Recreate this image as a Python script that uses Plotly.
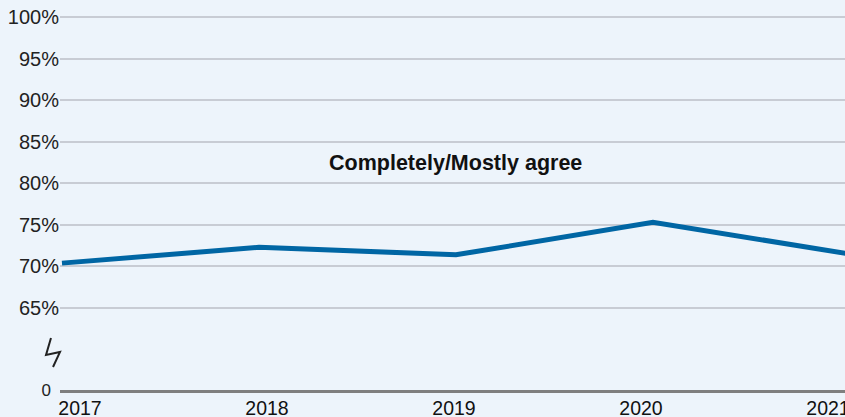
import plotly.graph_objects as go

# survey years and share who completely/mostly agree (%)
years = [2017, 2018, 2019, 2020, 2021]
agree = [70.4, 72.3, 71.4, 75.3, 71.5]
year_labels = ["2017", "2018", "2019", "2020", "2021"]
pct_ticks = [65, 70, 75, 80, 85, 90, 95, 100]
series_name = "Completely/Mostly agree"

bg = "#EDF4FB"
blue = "#0066A4"
font = "Arial, Liberation Sans, sans-serif"

fig = go.Figure()
fig.add_trace(go.Scatter(x=years, y=agree, mode="lines",
                         line=dict(color=blue, width=5),
                         showlegend=False, hoverinfo="skip"))

fig.add_annotation(x=2019, y=82.4, text="<b>" + series_name + "</b>",
                   showarrow=False, font=dict(size=21.5, color="#111111", family=font),
                   xref="x", yref="y")

# broken axis mark (paper coords of plot area)
fig.add_shape(type="path", xref="paper", yref="paper",
              path="M -0.0115 0.1333 L -0.0178 0.0897 L 0 0.0974 L -0.0089 0.059",
              line=dict(color="#222222", width=2))

fig.update_layout(
    width=845, height=417,
    margin=dict(l=60, r=0, t=0, b=27),
    paper_bgcolor=bg, plot_bgcolor=bg,
    font=dict(family=font, color="#222222"),
    xaxis=dict(range=[2016.99, 2020.975], showgrid=False, zeroline=False,
               showticklabels=False, anchor="y2", showline=True, automargin=False,
               linecolor="#7F7F7F", linewidth=3),
    xaxis2=dict(range=[-0.107, 4.091], overlaying="x", anchor="y2", side="bottom",
                tickvals=list(range(len(year_labels))), ticktext=year_labels,
                showgrid=False, zeroline=False, ticks="", ticklabelstandoff=4,
                ticklabeloverflow="allow", automargin=False,
                tickfont=dict(size=19.5, color="#111111")),
    yaxis=dict(domain=[0.1795, 1], range=[63.56, 102.05], tickvals=pct_ticks,
               ticktext=[f"{v}%" for v in pct_ticks], showgrid=True,
               gridcolor="#C8CCD4", gridwidth=1.5, zeroline=False, automargin=False,
               tickfont=dict(size=20, color="#222222"), ticks=""),
    yaxis2=dict(domain=[0, 0.1795], range=[0, 10], tickvals=[0], ticktext=["0"],
                showgrid=False, zeroline=False, ticks="", ticklabelstandoff=8,
                automargin=False, tickfont=dict(size=17, color="#222222")),
)

# invisible trace to activate secondary axes
fig.add_trace(go.Scatter(x=[None], y=[None], xaxis="x2", yaxis="y2",
                         showlegend=False, hoverinfo="skip"))

fig.write_html("out.html", config={"displayModeBar": False},
               post_script="document.body.style.margin='0';")
